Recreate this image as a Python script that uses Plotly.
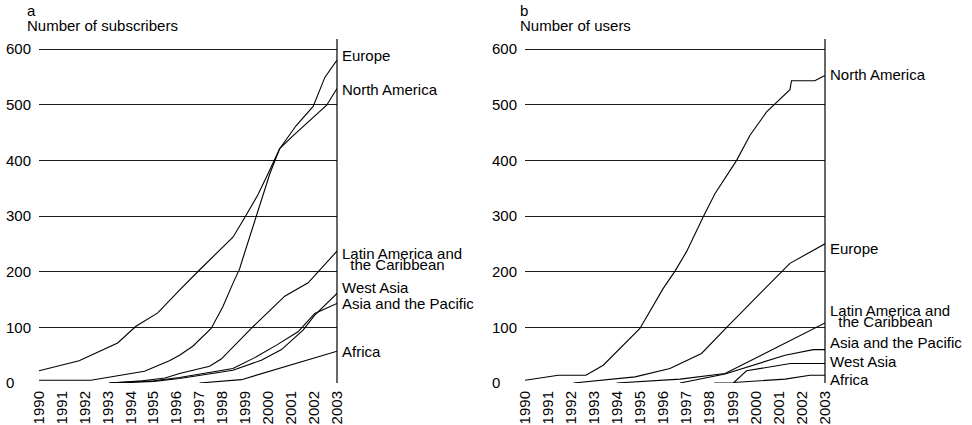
import plotly.graph_objects as go

# ---------------- data ----------------
years = list(range(1990, 2004))
year_labels = [str(y) for y in years]
y_ticks = [0, 100, 200, 300, 400, 500, 600]
y_tick_labels = ["0\u00a0\u00a0\u00a0\u00a0", "100", "200", "300", "400", "500", "600"]

# Panel a: number of subscribers
eu_a_x = [1990, 1992.26, 1994.6, 1995.69, 1996.13, 1996.71, 1997.51, 1998.02, 1998.46, 1998.75,
          1998.9, 1999.19, 1999.55, 2000.07, 2000.5, 2001.23, 2001.96, 2002.47, 2003]
eu_a_y = [5, 5, 21, 40, 50, 66, 98, 137, 179, 205, 225, 263, 307, 376, 421, 463, 497, 549, 580]

na_a_x = [1990, 1991.75, 1993.43, 1994.23, 1995.18, 1995.69, 1996.13, 1997.0, 1997.44, 1998.46,
          1998.97, 1999.55, 1999.99, 2000.5, 2001.1, 2002.55, 2003]
na_a_y = [22, 40, 72, 102, 126, 149, 167, 203, 221, 262, 297, 338, 376, 421, 445, 499, 529]

la_a_x = [1993.06, 1994.5, 1995.5, 1996.13, 1997.44, 1997.95, 1999.26, 2000.72, 2001.74, 2002.62, 2003]
la_a_y = [0, 4, 9, 17, 30, 43, 98, 156, 180, 221, 237]

ap_a_x = [1993.06, 1995.0, 1996.13, 1998.46, 1999.48, 2000.36, 2001.3, 2002.03, 2003]
ap_a_y = [0, 4, 10, 26, 47, 68, 92, 125, 143]

wa_a_x = [1993.5, 1995.0, 1996.13, 1998.46, 1999.7, 2000.58, 2001.52, 2002.03, 2003]
wa_a_y = [0, 3, 8, 23, 41, 60, 95, 122, 161]

af_a_x = [1997.0, 1998.83, 2003]
af_a_y = [0, 6, 57]

# Panel b: number of users
na_b_x = [1990, 1991.44, 1992.64, 1993.39, 1994.98, 1995.99, 1996.5, 1997.0, 1997.73, 1998.23,
          1999.17, 1999.75, 2000.47, 2001.48, 2001.55, 2002.56, 2002.93, 2003]
na_b_y = [5, 14, 14, 32, 98, 170, 201, 236, 299, 340, 400, 445, 487, 527, 543, 543, 551, 552]

eu_b_x = [1992.1, 1994.77, 1996.28, 1997.65, 1998.74, 2000.4, 2001.48, 2003]
eu_b_y = [0, 11, 26, 53, 100, 170, 215, 250]

la_b_x = [1993.97, 1996.72, 1998.67, 2002.64, 2003]
la_b_y = [0, 7, 17, 101, 108]

ap_b_x = [1996.72, 1998.67, 2001.27, 2002.49, 2003]
ap_b_y = [0, 16, 50, 60, 60]

wa_b_x = [1998.2, 1999.03, 1999.6, 2001.5, 2003]
wa_b_y = [0, 0, 22, 35, 35]

af_b_x = [1999.03, 2001.27, 2002.35, 2003]
af_b_y = [1, 7, 14, 14]

# end labels (text, y position in data units)
labels_a = [("Europe", 589), ("North America", 528), ("Latin America and", 233),
            ("\u00a0\u00a0the Caribbean", 212), ("West Asia", 172),
            ("Asia and the Pacific", 142), ("Africa", 57)]
labels_b = [("North America", 555), ("Europe", 242), ("Latin America and", 131),
            ("\u00a0\u00a0the Caribbean", 110), ("Asia and the Pacific", 72),
            ("West Asia", 39.5), ("Africa", 7)]

# ---------------- figure ----------------
FONT = "Liberation Sans, Arial, Helvetica, sans-serif"
W, H = 972, 425
fig = go.Figure()

series_a = [(eu_a_x, eu_a_y), (na_a_x, na_a_y), (la_a_x, la_a_y),
            (ap_a_x, ap_a_y), (wa_a_x, wa_a_y), (af_a_x, af_a_y)]
series_b = [(na_b_x, na_b_y), (eu_b_x, eu_b_y), (la_b_x, la_b_y),
            (ap_b_x, ap_b_y), (wa_b_x, wa_b_y), (af_b_x, af_b_y)]

for xs, ys in series_a:
    fig.add_trace(go.Scatter(x=xs, y=ys, mode="lines", xaxis="x", yaxis="y",
                             line=dict(color="black", width=1.1), showlegend=False))
for xs, ys in series_b:
    fig.add_trace(go.Scatter(x=xs, y=ys, mode="lines", xaxis="x2", yaxis="y2",
                             line=dict(color="black", width=1.1), showlegend=False))

ydom = [1 - 383 / H, 1 - 39 / H]
xdom_a = [39 / W, 337 / W]
xdom_b = [525 / W, 825 / W]

xcommon = dict(range=[1990, 2003], tickvals=years, ticktext=year_labels, tickangle=-90,
               showgrid=False, zeroline=False, showline=False, ticks="",
               ticklabelstandoff=4, automargin=False,
               tickfont=dict(family=FONT, size=15, color="black"))
ycommon = dict(range=[0, 618], tickvals=y_ticks, ticktext=y_tick_labels,
               showgrid=True, gridcolor="#1a1a1a", gridwidth=1, zeroline=False,
               showline=False, ticks="", ticklabelstandoff=7, automargin=False,
               tickfont=dict(family=FONT, size=15, color="black"))

fig.update_layout(
    width=W, height=H, template="none",
    paper_bgcolor="white", plot_bgcolor="white",
    margin=dict(l=0, r=0, t=0, b=0, pad=0),
    showlegend=False,
    xaxis=dict(domain=xdom_a, anchor="y", **xcommon),
    yaxis=dict(domain=ydom, anchor="x", **ycommon),
    xaxis2=dict(domain=xdom_b, anchor="y2", **xcommon),
    yaxis2=dict(domain=ydom, anchor="x2", **ycommon),
)

# right-hand vertical axis lines
for xr, yr in (("x domain", "y domain"), ("x2 domain", "y2 domain")):
    fig.add_shape(type="line", xref=xr, yref=yr, x0=1, x1=1, y0=0, y1=1,
                  line=dict(color="black", width=1.2))

anns = []
for text, yv in labels_a:
    anns.append(dict(text=text, xref="x domain", yref="y", x=1, y=yv, xanchor="left",
                     yanchor="middle", xshift=4, showarrow=False, borderpad=0,
                     font=dict(family=FONT, size=15, color="black")))
for text, yv in labels_b:
    anns.append(dict(text=text, xref="x2 domain", yref="y2", x=1, y=yv, xanchor="left",
                     yanchor="middle", xshift=4, showarrow=False, borderpad=0,
                     font=dict(family=FONT, size=15, color="black")))

titles = [("a", 26, 11), ("Number of subscribers", 26, 25),
          ("b", 519, 11), ("Number of users", 519, 25)]
for text, px, py in titles:
    anns.append(dict(text=text, xref="paper", yref="paper", x=px / W, y=1 - py / H,
                     xanchor="left", yanchor="middle", showarrow=False, borderpad=0,
                     font=dict(family=FONT, size=15, color="black")))

fig.update_layout(annotations=anns)
fig.write_html("out.html",
               config={"displayModeBar": False, "staticPlot": True},
               post_script="document.body.style.margin='0';document.body.style.overflow='hidden';")
